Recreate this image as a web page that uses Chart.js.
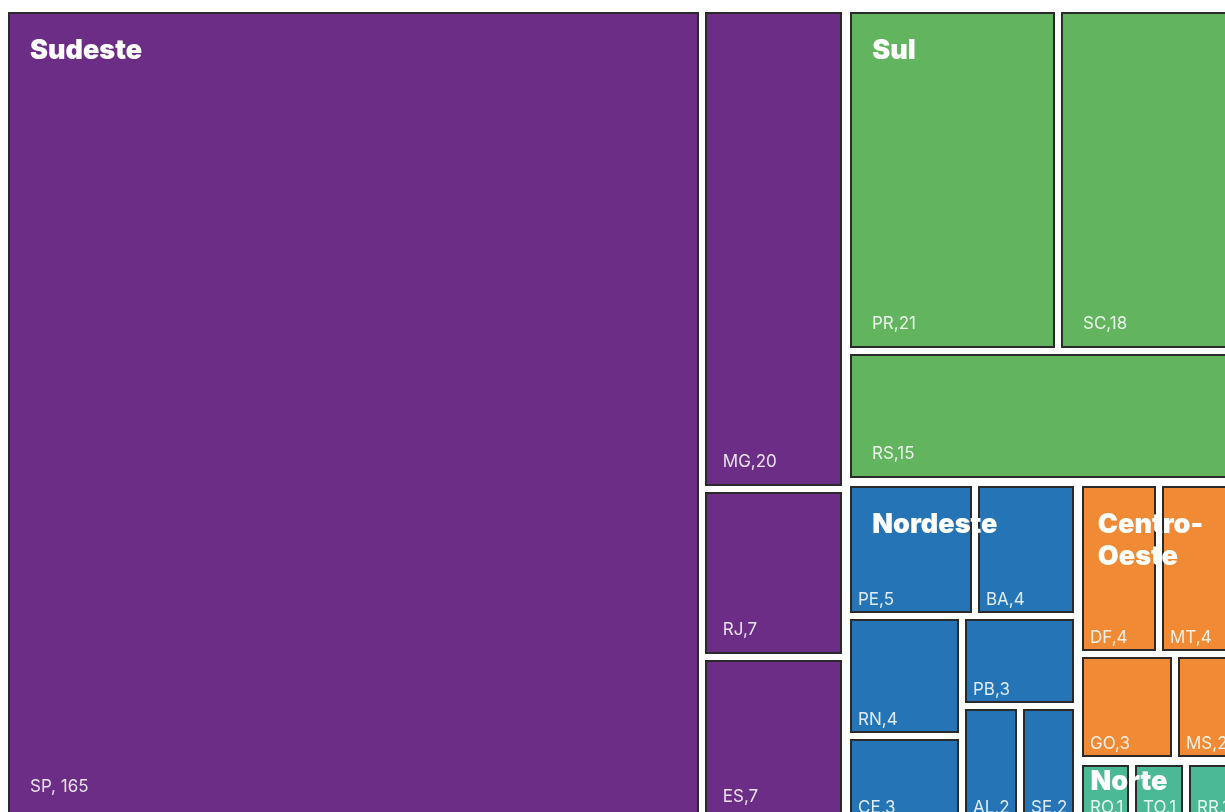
<!DOCTYPE html>
<html>
<head>
<meta charset="utf-8">
<script src="https://cdn.jsdelivr.net/npm/chart.js@4.4.1/dist/chart.umd.min.js"></script>
<style>
  html, body { margin: 0; padding: 0; background: #fff; overflow: hidden; }
  #wrap { position: absolute; left: 0; top: 0; width: 1250px; height: 835px; }
</style>
</head>
<body>
<div id="wrap"><canvas id="treemap" width="1250" height="835"></canvas></div>
<script>
// regioes e estados (quantidade por UF)
var regioes = ['Sudeste', 'Sul', 'Nordeste', 'Centro-Oeste', 'Norte'];

var sudesteUF = ['SP', 'MG', 'RJ', 'ES'];
var sudesteQtd = [165, 20, 7, 7];
var sulUF = ['PR', 'SC', 'RS'];
var sulQtd = [21, 18, 15];
var nordesteUF = ['PE', 'BA', 'RN', 'CE', 'PB', 'AL', 'SE'];
var nordesteQtd = [5, 4, 4, 3, 3, 2, 2];
var centroOesteUF = ['DF', 'MT', 'GO', 'MS'];
var centroOesteQtd = [4, 4, 3, 2];
var norteUF = ['RO', 'TO', 'RR'];
var norteQtd = [1, 1, 1];

var ufPorRegiao = [sudesteUF, sulUF, nordesteUF, centroOesteUF, norteUF];
var qtdPorRegiao = [sudesteQtd, sulQtd, nordesteQtd, centroOesteQtd, norteQtd];

var corRegiao = ['#6c2d86', '#62b55e', '#2474b6', '#f08a34', '#4bb896'];
var BORDA = '#2a2a2a';

// area do grafico dentro do canvas
var PAD = { left: 4, top: 8, right: 10, bottom: 10 };
var CANVAS_W = 1250, CANVAS_H = 835;
var aspecto = (CANVAS_W - PAD.left - PAD.right) / (CANVAS_H - PAD.top - PAD.bottom);

function soma(a) { return a.reduce(function (s, v) { return s + v; }, 0); }
var total = soma(qtdPorRegiao.map(soma));
// unidades de dado: area de cada celula = quantidade
var ALTURA = Math.sqrt(total / aspecto);
var LARGURA = ALTURA * aspecto;

var RATIO = 1.3;

// squarified (mesma logica do d3.treemapSquarify)
function squarify(nodes, x0, y0, x1, y1) {
  var value = soma(nodes.map(function (n) { return n.value; }));
  var i0 = 0, i1 = 0, n = nodes.length;
  while (i0 < n) {
    var dx = x1 - x0, dy = y1 - y0;
    var sum = nodes[i1++].value, minV = sum, maxV = sum;
    var alpha = Math.max(dy / dx, dx / dy) / (value * RATIO);
    var beta = sum * sum * alpha;
    var minRatio = Math.max(maxV / beta, beta / minV);
    for (; i1 < n; ++i1) {
      var v = nodes[i1].value;
      sum += v;
      if (v < minV) minV = v;
      if (v > maxV) maxV = v;
      beta = sum * sum * alpha;
      var r = Math.max(maxV / beta, beta / minV);
      if (r > minRatio) { sum -= v; break; }
      minRatio = r;
    }
    var row = nodes.slice(i0, i1);
    if (dx < dy) {
      var yy = y0 + dy * sum / value, xx = x0;
      row.forEach(function (nd) {
        var w = dx * nd.value / sum;
        nd.rect = [xx, y0, xx + w, yy];
        xx += w;
      });
      y0 = yy;
    } else {
      var xx2 = x0 + dx * sum / value, yy2 = y0;
      row.forEach(function (nd) {
        var h = dy * nd.value / sum;
        nd.rect = [x0, yy2, xx2, yy2 + h];
        yy2 += h;
      });
      x0 = xx2;
    }
    value -= sum;
    i0 = i1;
  }
  return nodes;
}

var arvore = regioes.map(function (nome, i) {
  return {
    nome: nome,
    value: soma(qtdPorRegiao[i]),
    cor: corRegiao[i],
    filhos: ufPorRegiao[i].map(function (uf, j) {
      return { uf: uf, value: qtdPorRegiao[i][j] };
    })
  };
});
squarify(arvore, 0, 0, LARGURA, ALTURA);
arvore.forEach(function (reg) {
  squarify(reg.filhos, reg.rect[0], reg.rect[1], reg.rect[2], reg.rect[3]);
});

function rotulo(uf, v) {
  return uf === 'SP' ? uf + ', ' + v : uf + ',' + v;
}

var treemapPlugin = {
  id: 'treemap',
  afterDatasetsDraw: function (chart) {
    var ctx = chart.ctx, sx = chart.scales.x, sy = chart.scales.y;
    function px(r) {
      return {
        x0: sx.getPixelForValue(r[0]), y0: sy.getPixelForValue(r[1]),
        x1: sx.getPixelForValue(r[2]), y1: sy.getPixelForValue(r[3])
      };
    }
    ctx.save();
    arvore.forEach(function (reg) {
      var R = px(reg.rect);
      reg.px = { x0: R.x0 + 4, y0: R.y0 + 4, x1: R.x1 - 4, y1: R.y1 - 4 };
      reg.filhos.forEach(function (f) {
        var L = px(f.rect);
        var x0 = Math.round(Math.max(L.x0 + 3, reg.px.x0));
        var y0 = Math.round(Math.max(L.y0 + 3, reg.px.y0));
        var x1 = Math.round(Math.min(L.x1 - 3, reg.px.x1));
        var y1 = Math.round(Math.min(L.y1 - 3, reg.px.y1));
        var w = x1 - x0, h = y1 - y0;
        ctx.fillStyle = reg.cor;
        ctx.fillRect(x0, y0, w, h);
        ctx.lineWidth = 2;
        ctx.strokeStyle = BORDA;
        ctx.strokeRect(x0 + 1, y0 + 1, w - 2, h - 2);

        var padX = f.value >= 6 ? Math.min(22, w * 0.13) : 8;
        var padY = f.value >= 6 ? (f.value > 100 ? 29 : 19) : 8;
        ctx.font = '400 17px Inter';
        ctx.fillStyle = 'rgba(255,255,255,0.86)';
        ctx.textBaseline = 'alphabetic';
        ctx.textAlign = 'left';
        ctx.fillText(rotulo(f.uf, f.value), x0 + padX, y1 - padY);
      });
    });

    // nomes das regioes por cima
    arvore.forEach(function (reg) {
      var P = reg.px;
      var w = P.x1 - P.x0, h = P.y1 - P.y0;
      var minDim = Math.min(w, h);
      var padL = minDim < 80 ? 8 : Math.min(22, minDim * 0.1);
      var padT = minDim < 80 ? 4 : 25;
      ctx.font = '900 27px Inter';
      ctx.fillStyle = '#ffffff';
      ctx.textBaseline = 'top';
      var linhas = [reg.nome];
      if (ctx.measureText(reg.nome).width > w - 2 * padL && reg.nome.indexOf('-') > 0) {
        var k = reg.nome.indexOf('-');
        linhas = [reg.nome.slice(0, k + 1), reg.nome.slice(k + 1)];
      }
      linhas.forEach(function (t, i) {
        ctx.fillText(t, P.x0 + padL, P.y0 + padT + i * 32);
      });
    });
    ctx.restore();
  }
};

new Chart(document.getElementById('treemap').getContext('2d'), {
  type: 'scatter',
  data: { datasets: [] },
  options: {
    responsive: false,
    animation: false,
    devicePixelRatio: 1,
    layout: { padding: PAD },
    plugins: { legend: { display: false }, tooltip: { enabled: false } },
    scales: {
      x: { type: 'linear', min: 0, max: LARGURA, display: false },
      y: { type: 'linear', min: 0, max: ALTURA, reverse: true, display: false }
    }
  },
  plugins: [treemapPlugin]
});
</script>
</body>
</html>
